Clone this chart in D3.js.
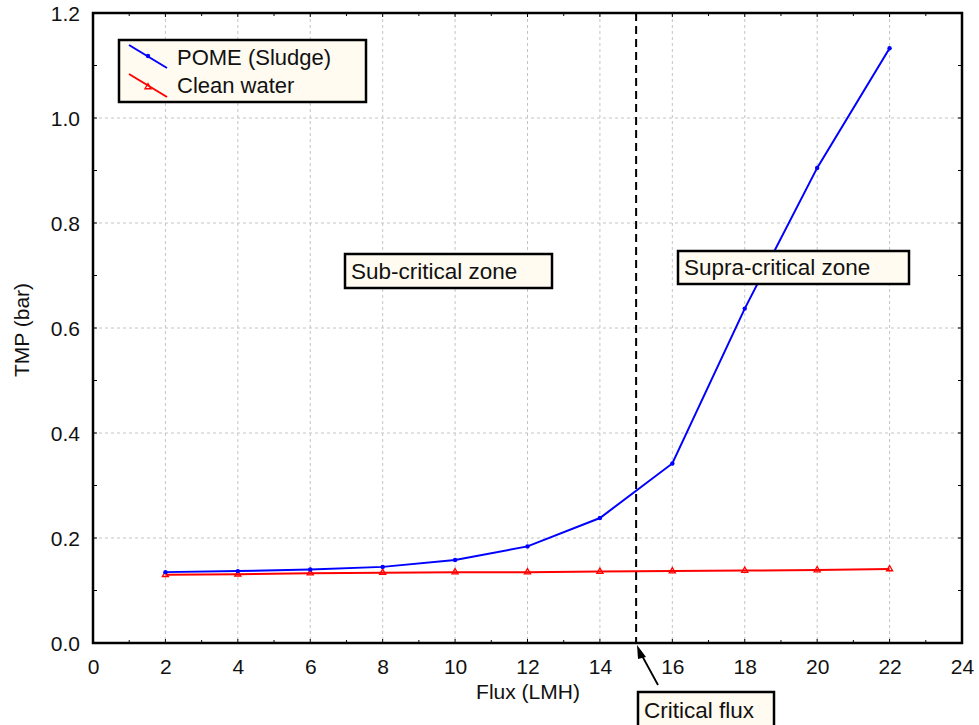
<!DOCTYPE html>
<html><head><meta charset="utf-8">
<script src="https://cdn.jsdelivr.net/npm/d3@7/dist/d3.min.js"></script>
<style>body{margin:0;background:#fff}svg{display:block}text{font-family:"Liberation Sans",Arial,sans-serif}</style>
</head><body>
<svg id="c" width="979" height="725"></svg>
<script>
const fluxValues = [2, 4, 6, 8, 10, 12, 14, 16, 18, 20, 22];
const pomeTMP = [0.135, 0.137, 0.140, 0.145, 0.158, 0.184, 0.238, 0.342, 0.637, 0.905, 1.133];
const waterTMP = [0.130, 0.131, 0.133, 0.134, 0.135, 0.135, 0.136, 0.137, 0.138, 0.139, 0.141];
const xTicks = [0, 2, 4, 6, 8, 10, 12, 14, 16, 18, 20, 22, 24];
const yTicks = [0.0, 0.2, 0.4, 0.6, 0.8, 1.0, 1.2];
const seriesNames = ["POME (Sludge)", "Clean water"];
const criticalFlux = 15;

const svg = d3.select("#c");
const L = 93, R = 962, T = 13, B = 643;
const x = d3.scaleLinear().domain([0, 24]).range([L, R]);
const y = d3.scaleLinear().domain([0, 1.2]).range([B, T]);

// grid
svg.append("g").selectAll("line").data(xTicks.slice(1, -1)).join("line")
  .attr("x1", d => x(d)).attr("x2", d => x(d)).attr("y1", T).attr("y2", B)
  .attr("stroke", "#c4c4c4").attr("stroke-dasharray", "3,3");
svg.append("g").selectAll("line").data(yTicks.slice(1, -1)).join("line")
  .attr("y1", d => y(d)).attr("y2", d => y(d)).attr("x1", L).attr("x2", R)
  .attr("stroke", "#c4c4c4").attr("stroke-dasharray", "3,3");

// axes
const xAxis = d3.axisBottom(x).tickValues(xTicks).tickSize(0).tickPadding(0).tickFormat(d3.format("d"));
const gx = svg.append("g").attr("transform", `translate(0,${B})`).call(xAxis);
const yAxis = d3.axisLeft(y).tickValues(yTicks).tickSize(0).tickPadding(13).tickFormat(d3.format(".1f"));
const gy = svg.append("g").attr("transform", `translate(${L},0)`).call(yAxis);
[gx, gy].forEach(g => { g.select(".domain").remove(); g.attr("font-size", null).attr("font-family", null);
  g.selectAll("text").style("font-size", "21px").attr("fill", "#111"); });
gx.selectAll("text").attr("y", 31).attr("dy", 0);
gy.selectAll("text").attr("dy", "0.35em");

// minor/major inward ticks
const xMinor = d3.range(1, 24, 1);
svg.append("g").selectAll("line").data(xMinor).join("line")
  .attr("x1", d => x(d)).attr("x2", d => x(d)).attr("y1", B).attr("y2", d => B - (d % 2 === 0 ? 4 : 3))
  .attr("stroke", "#000");
svg.append("g").selectAll("line").data(xMinor).join("line")
  .attr("x1", d => x(d)).attr("x2", d => x(d)).attr("y1", T).attr("y2", d => T + (d % 2 === 0 ? 4 : 3))
  .attr("stroke", "#000");
const yMinor = d3.range(1, 12).map(i => i / 10);
svg.append("g").selectAll("line").data(yMinor).join("line")
  .attr("y1", d => y(d)).attr("y2", d => y(d)).attr("x1", L).attr("x2", L + 4).attr("stroke", "#000");
svg.append("g").selectAll("line").data(yMinor).join("line")
  .attr("y1", d => y(d)).attr("y2", d => y(d)).attr("x1", R).attr("x2", R - 4).attr("stroke", "#000");

// frame
svg.append("rect").attr("x", L).attr("y", T).attr("width", R - L).attr("height", B - T)
  .attr("fill", "none").attr("stroke", "#000").attr("stroke-width", 2.5);

// critical flux line
svg.append("line").attr("x1", x(criticalFlux)).attr("x2", x(criticalFlux)).attr("y1", T).attr("y2", B)
  .attr("stroke", "#000").attr("stroke-width", 2).attr("stroke-dasharray", "8,5");

// series
const line = d3.line().x(d => x(d[0])).y(d => y(d[1]));
const pome = fluxValues.map((f, i) => [f, pomeTMP[i]]);
const water = fluxValues.map((f, i) => [f, waterTMP[i]]);
svg.append("path").datum(water).attr("d", line).attr("fill", "none").attr("stroke", "#ff0000").attr("stroke-width", 2);
svg.append("path").datum(pome).attr("d", line).attr("fill", "none").attr("stroke", "#0000ff").attr("stroke-width", 2);
const tri = d3.symbol().type(d3.symbolTriangle).size(16);
svg.append("g").selectAll("path").data(water).join("path")
  .attr("transform", d => `translate(${x(d[0])},${y(d[1])})`).attr("d", tri)
  .attr("fill", "none").attr("stroke", "#ff0000").attr("stroke-width", 1.3);
svg.append("g").selectAll("circle").data(pome).join("circle")
  .attr("cx", d => x(d[0])).attr("cy", d => y(d[1])).attr("r", 2.2).attr("fill", "#0000ff");

// legend
const lg = svg.append("g");
lg.append("rect").attr("x", 119).attr("y", 40).attr("width", 247).attr("height", 62)
  .attr("fill", "#fffbf0").attr("stroke", "#000").attr("stroke-width", 2.5);
lg.append("line").attr("x1", 129).attr("y1", 45).attr("x2", 167).attr("y2", 68).attr("stroke", "#0000ff").attr("stroke-width", 2);
lg.append("circle").attr("cx", 148).attr("cy", 56).attr("r", 2.2).attr("fill", "#0000ff");
lg.append("line").attr("x1", 129).attr("y1", 74).attr("x2", 167).attr("y2", 97).attr("stroke", "#ff0000").attr("stroke-width", 2);
lg.append("path").attr("transform", "translate(148,87)").attr("d", tri).attr("fill", "none").attr("stroke", "#ff0000").attr("stroke-width", 1.3);
lg.append("text").attr("x", 177).attr("y", 65).style("font-size", "22px").attr("fill", "#111").text(seriesNames[0]);
lg.append("text").attr("x", 177).attr("y", 93).style("font-size", "22px").attr("fill", "#111").text(seriesNames[1]);

// annotation boxes
function box(x0, y0, w, h, txt, base) {
  svg.append("rect").attr("x", x0).attr("y", y0).attr("width", w).attr("height", h)
    .attr("fill", "#fffbf0").attr("stroke", "#000").attr("stroke-width", 2.5);
  svg.append("text").attr("x", x0 + 6).attr("y", base).style("font-size", "22.5px").attr("fill", "#111").text(txt);
}
box(345, 254, 207, 34, "Sub-critical zone", 279);
box(678, 251, 231, 33, "Supra-critical zone", 275);
box(638, 692, 136, 40, "Critical flux", 718);

// arrow
svg.append("line").attr("x1", 658).attr("y1", 685).attr("x2", 640).attr("y2", 652).attr("stroke", "#000").attr("stroke-width", 1.8);
svg.append("path").attr("d", "M637,645 L646,657 L638,659 Z").attr("fill", "#000");

// axis titles
svg.append("text").attr("x", 528).attr("y", 699).attr("text-anchor", "middle").style("font-size", "21px").attr("fill", "#111").text("Flux (LMH)");
svg.append("text").attr("transform", "translate(29,330) rotate(-90)").attr("text-anchor", "middle").style("font-size", "21px").attr("fill", "#111").text("TMP (bar)");
</script>
</body></html>
